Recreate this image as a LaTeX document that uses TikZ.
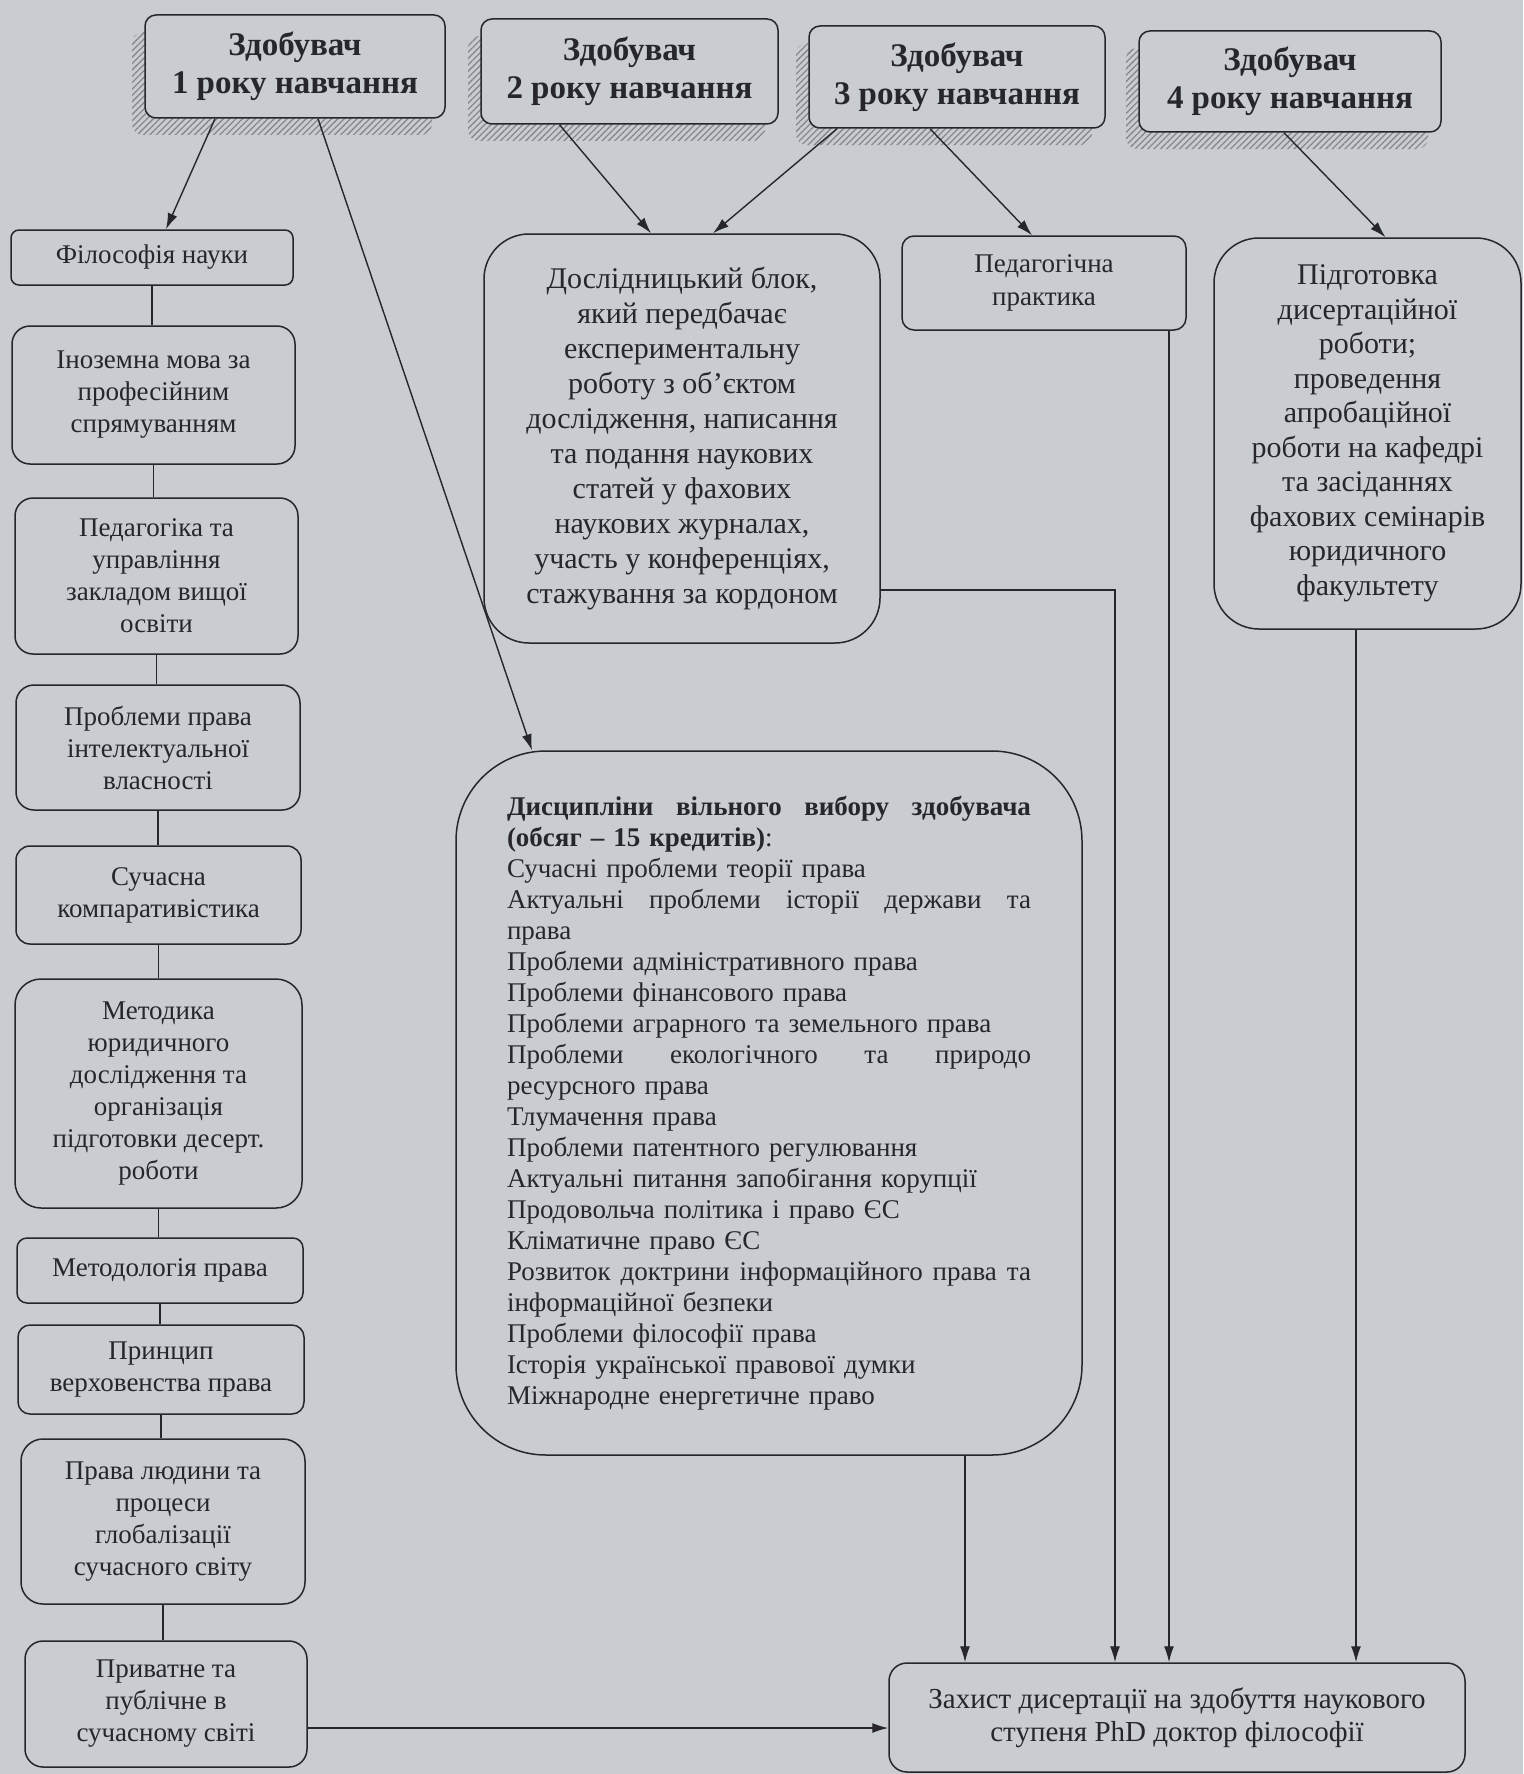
\documentclass[tikz,border=0pt]{standalone}
\usepackage{fontspec}
\setmainfont{Liberation Serif}
\usetikzlibrary{arrows.meta,patterns.meta,shadows,calc}
\setlength\parindent{0pt}
\definecolor{bg}{RGB}{201,204,209}
\definecolor{ink}{RGB}{38,38,44}
\begin{document}
\begin{tikzpicture}[x=1pt,y=-1pt,
  box/.style={draw=ink, fill=bg, text=ink, align=center, inner sep=0pt, line width=1.5pt},
  topbox/.style={box, rounded corners=11pt, font=\bfseries\fontsize{33}{38}\selectfont,
    general shadow={shadow xshift=-13pt, shadow yshift=-17pt, draw=none,
      pattern={Lines[angle=45,distance=4.5pt,line width=1.3pt]}, pattern color=ink!55}},
  lbox/.style={box, font=\fontsize{27}{32}\selectfont},
  arr/.style={draw=ink, line width=1.4pt, -{Latex[length=16pt,width=10pt]}},
  link/.style={draw=ink, line width=1.4pt}]
\fill[bg] (0,0) rectangle (1523,1774);
\useasboundingbox (0,0) rectangle (1523,1774);

% top boxes
\node[topbox, minimum width=300pt, minimum height=103pt] (B1) at (295,66.5) {Здобувач\\1 року навчання};
\node[topbox, minimum width=297pt, minimum height=105pt] (B2) at (629.5,71.5) {Здобувач\\2 року навчання};
\node[topbox, minimum width=296pt, minimum height=102pt] (B3) at (957,77) {Здобувач\\3 року навчання};
\node[topbox, minimum width=302pt, minimum height=101pt] (B4) at (1290,81.5) {Здобувач\\4 року навчання};

% left column
\node[lbox, rounded corners=8pt, minimum width=282pt, minimum height=55pt] (L1) at (152,257.5) {Філософія науки};
\node[lbox, rounded corners=18pt, minimum width=283pt, minimum height=138pt] (L2) at (153.5,395) {Іноземна мова за\\професійним\\спрямуванням};
\node[lbox, rounded corners=18pt, minimum width=283pt, minimum height=156pt] (L3) at (156.5,576) {Педагогіка та\\управління\\закладом вищої\\освіти};
\node[lbox, rounded corners=18pt, minimum width=284pt, minimum height=125pt] (L4) at (158,747.5) {Проблеми права\\інтелектуальної\\власності};
\node[lbox, rounded corners=14pt, minimum width=285pt, minimum height=98pt] (L5) at (158.5,895) {Сучасна\\компаративістика};
\node[lbox, rounded corners=26pt, minimum width=287pt, minimum height=229pt] (L6) at (158.5,1093.5) {Методика\\юридичного\\дослідження та\\організація\\підготовки десерт.\\роботи};
\node[lbox, rounded corners=10pt, minimum width=286pt, minimum height=65pt] (L7) at (160,1270.5) {Методологія права};
\node[lbox, rounded corners=12pt, minimum width=286pt, minimum height=89pt] (L8) at (161,1369.5) {Принцип\\верховенства права};
\node[lbox, rounded corners=22pt, minimum width=284pt, minimum height=165pt] (L9) at (163,1521.5) {Права людини та\\процеси\\глобалізації\\сучасного світу};
\node[lbox, rounded corners=18pt, minimum width=282pt, minimum height=126pt] (L10) at (166,1704) {Приватне та\\публічне в\\сучасному світі};

% middle and right
\node[box, rounded corners=45pt, minimum width=396pt, minimum height=409pt, font=\fontsize{30}{35}\selectfont] (Dosl) at (682,438.5)
  {Дослідницький блок,\\який передбачає\\експериментальну\\роботу з об’єктом\\дослідження, написання\\та подання наукових\\статей у фахових\\наукових журналах,\\участь у конференціях,\\стажування за кордоном};
\node[box, rounded corners=12pt, minimum width=284pt, minimum height=94pt, font=\fontsize{27}{33}\selectfont] (Ped) at (1044,283) {Педагогічна\\практика};
\node[box, rounded corners=45pt, minimum width=307pt, minimum height=391pt, font=\fontsize{30}{34.5}\selectfont] (Pidg) at (1367.5,433.5)
  {Підготовка\\дисертаційної\\роботи;\\проведення\\апробаційної\\роботи на кафедрі\\та засіданнях\\фахових семінарів\\юридичного\\факультету};
\node[box, rounded corners=90pt, minimum width=626pt, minimum height=704pt, text width=524pt, align=left, font=\fontsize{27}{31}\selectfont] (Disc) at (769,1103)
  {\textbf{Дисципліни\hfill вільного\hfill вибору\hfill здобувача}\\
   \textbf{(обсяг – 15 кредитів)}:\\
   Сучасні проблеми теорії права\\
   Актуальні\hfill проблеми\hfill історії\hfill держави\hfill та\\
   права\\
   Проблеми адміністративного права\\
   Проблеми фінансового права\\
   Проблеми аграрного та земельного права\\
   Проблеми\hfill екологічного\hfill та\hfill природо\\
   ресурсного права\\
   Тлумачення права\\
   Проблеми патентного регулювання\\
   Актуальні питання запобігання корупції\\
   Продовольча політика і право ЄС\\
   Кліматичне право ЄС\\
   Розвиток\hfill доктрини\hfill інформаційного\hfill права\hfill та\\
   інформаційної безпеки\\
   Проблеми філософії права\\
   Історія української правової думки\\
   Міжнародне енергетичне право};
\node[box, rounded corners=18pt, minimum width=576pt, minimum height=109pt, font=\fontsize{29}{33}\selectfont] (Z) at (1177,1717.5)
  {Захист дисертації на здобуття наукового\\ступеня PhD доктор філософії};

% arrows from top boxes
\draw[arr] ([xshift=-80pt]B1.south) -- ([xshift=14pt]L1.north);
\draw[arr] ([xshift=23pt]B1.south) -- ([xshift=-237pt]Disc.north);
\draw[arr] ([xshift=-70pt]B2.south) -- ([xshift=-31pt]Dosl.north);
\draw[arr] ([xshift=-120pt]B3.south) -- ([xshift=31pt]Dosl.north);
\draw[arr] ([xshift=-27pt]B3.south) -- ([xshift=-12pt]Ped.north);
\draw[arr] ([xshift=-6pt]B4.south) -- ([xshift=18pt]Pidg.north);

% left column links
\foreach \a/\b in {L1/L2,L2/L3,L3/L4,L4/L5,L5/L6,L6/L7,L7/L8,L8/L9,L9/L10}
  \draw[link] (\a.south) -- (\a.south |- \b.north);

% connectors to defence
\coordinate (c1) at (1115,590);
\draw[arr] (c1 -| Dosl.east) -- (c1) -- (c1 |- Z.north);
\coordinate (p1) at ([xshift=125pt]Ped.south);
\draw[arr] (p1) -- (p1 |- Z.north);
\coordinate (p2) at ([xshift=-11.5pt]Pidg.south);
\draw[arr] (p2) -- (p2 |- Z.north);
\coordinate (p3) at ([xshift=196pt]Disc.south);
\draw[arr] (p3) -- (p3 |- Z.north);
\coordinate (p4) at ([yshift=-24pt]L10.east);
\draw[arr] (p4) -- (p4 -| Z.west);
\end{tikzpicture}
\end{document}
